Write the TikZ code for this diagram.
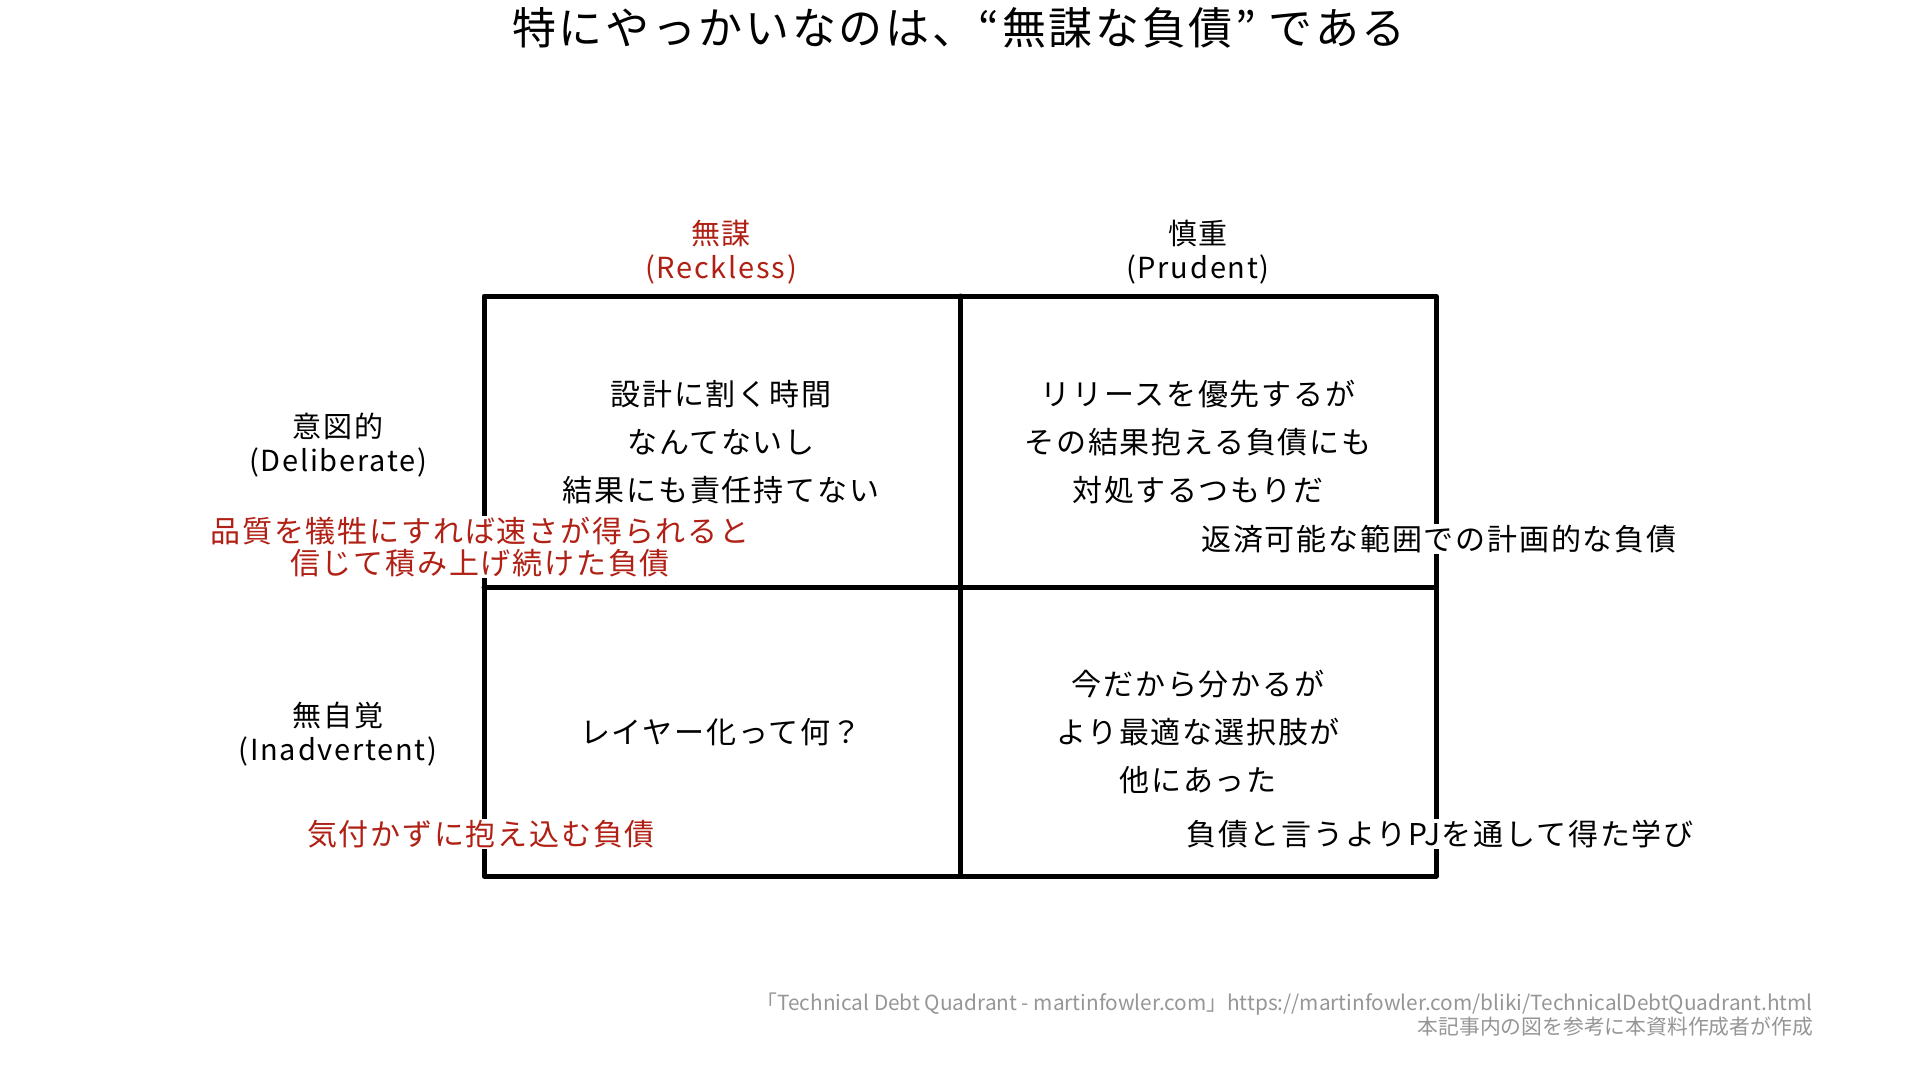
\documentclass[tikz,border=0pt]{standalone}
\usepackage{fontspec}
\setmainfont{Noto Sans CJK JP}
\newfontfamily\jpsp[LetterSpace=6]{Noto Sans CJK JP}
\definecolor{rk}{RGB}{176,32,20}
\definecolor{foot}{RGB}{150,150,150}
\begin{document}
\begin{tikzpicture}[x=1pt,y=-1pt,
  grid/.style={line width=5pt,black,line cap=round,line join=round},
  ttl/.style={inner sep=0pt,font=\jpsp\fontsize{44}{50}\selectfont},
  hdr/.style={inner sep=0pt,align=center,font=\jpsp\fontsize{29}{34}\selectfont},
  cell/.style={inner sep=0pt,align=center,font=\jpsp\fontsize{30}{48}\selectfont},
  note/.style={inner sep=1pt,fill=white,align=center,font=\jpsp\fontsize{30}{32}\selectfont},
  ft/.style={inner sep=0pt,anchor=east,text=foot,font=\fontsize{20.8}{24}\selectfont}]
\useasboundingbox (0,0) rectangle (1920,1080);
\fill[white] (0,0) rectangle (1920,1080);
% grid corners
\coordinate (tl) at (484,296);
\coordinate (tm) at (960,296);
\coordinate (tr) at (1436,296);
\coordinate (ml) at (484,587);
\coordinate (mr) at (1436,587);
\coordinate (bl) at (484,876);
\coordinate (bm) at (960,876);
\coordinate (br) at (1436,876);
\draw[grid] (tl) -- (tr) -- (br) -- (bl) -- cycle;
\draw[grid] (tm) -- (bm);
\draw[grid] (ml) -- (mr);
% title
\node[ttl] (title) at (959,28) {特にやっかいなのは、“無謀な負債” である};
% column headers
\node[hdr,text=rk] (reck) at (721,252.5) {無謀\\(Reckless)};
\node[hdr] (prud) at (1198,252.5) {慎重\\(Prudent)};
% row headers
\node[hdr] (delib) at (338,445) {意図的\\(Deliberate)};
\node[hdr] (inadv) at (338,734) {無自覚\\(Inadvertent)};
% cells
\node[cell] (c1) at (721,442) {設計に割く時間\\なんてないし\\結果にも責任持てない};
\node[cell] (c2) at (1198,442) {リリースを優先するが\\その結果抱える負債にも\\対処するつもりだ};
\node[cell] (c3) at (721,732) {レイヤー化って何？};
\node[cell] (c4) at (1198,732) {今だから分かるが\\より最適な選択肢が\\他にあった};
% notes
\node[note,text=rk] (n1) at (480,547) {品質を犠牲にすれば速さが得られると\\信じて積み上げ続けた負債};
\node[note] (n2) at (1439,539) {返済可能な範囲での計画的な負債};
\node[note,text=rk] (n3) at (481,834) {気付かずに抱え込む負債};
\node[note] (n4) at (1440,834) {負債と言うよりPJを通して得た学び};
% footer
\node[ft] (f1) at (1813,1004) {「Technical Debt Quadrant - martinfowler.com」https://martinfowler.com/bliki/TechnicalDebtQuadrant.html};
\node[ft] (f2) at (1813,1027) {本記事内の図を参考に本資料作成者が作成};
\end{tikzpicture}
\end{document}
